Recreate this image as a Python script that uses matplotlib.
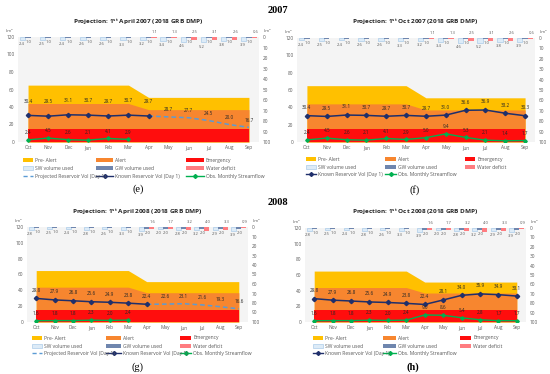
import matplotlib
matplotlib.use('Agg')
import matplotlib.pyplot as plt
from matplotlib.patches import Rectangle
from matplotlib.lines import Line2D
import numpy as np

plt.rcParams['font.family'] = ['Open Sans', 'DejaVu Sans']
plt.rcParams['mathtext.fontset'] = 'custom'
plt.rcParams['mathtext.rm'] = 'Open Sans'
plt.rcParams['mathtext.bf'] = 'Open Sans:bold'

W, H = 550, 374

months = ['Oct', 'Nov', 'Dec', 'Jan', 'Feb', 'Mar', 'Apr', 'May', 'Jun', 'Jul', 'Aug', 'Sep']
pre_alert = [65, 65, 65, 65, 65, 65, 51, 51, 51, 51, 51, 51]
alert = [44, 44, 44, 44, 44, 44, 37, 37, 37, 37, 37, 37]
emergency = [15, 15, 15, 15, 15, 15, 15, 15, 15, 15, 15, 15]

sw_2007 = [2.4, 2.5, 2.4, 2.6, 2.6, 3.3, 3.2, 3.4, 4.6, 5.2, 3.8, 3.9]
gw_2007 = [1.0, 1.0, 1.0, 1.0, 1.0, 1.0, 1.0, 1.0, 1.0, 1.0, 1.0, 1.0]
deficit_2007 = [0, 0, 0, 0, 0, 0, 1.1, 1.3, 2.5, 3.1, 2.6, 0.6]

sw_2008 = [2.8, 2.5, 2.4, 2.8, 2.6, 3.3, 3.9, 2.0, 2.8, 3.2, 2.9, 3.9]
gw_2008 = [1.0, 1.0, 1.0, 1.0, 1.0, 1.0, 2.0, 2.0, 2.0, 2.0, 2.0, 2.0]
deficit_2008 = [0, 0, 0, 0, 0, 0, 1.6, 1.7, 3.2, 4.0, 3.3, 0.9]

known_apr2007 = [30.4, 29.5, 31.1, 30.7, 29.7, 30.7, 29.7]
projected_apr2007 = [29.7, 28.7, 27.7, 24.5, 20.0, 16.7]
flow_apr2007 = [2.4, 4.5, 2.6, 2.1, 4.1, 2.9]

known_oct2007 = [30.4, 29.5, 31.1, 30.7, 29.7, 30.7, 29.7, 31.0, 36.6, 36.9, 33.2, 30.3]
flow_oct2007 = [2.4, 4.5, 2.6, 2.1, 4.1, 2.9, 5.0, 9.4, 5.3, 2.1, 1.4, 1.7]

known_apr2008 = [29.8, 27.9, 26.8, 25.6, 24.9, 23.8, 22.4]
projected_apr2008 = [22.4, 22.6, 23.1, 21.6, 19.3, 16.6]
flow_apr2008 = [1.6, 1.8, 1.8, 2.3, 2.0, 2.4]

known_oct2008 = [29.8, 27.9, 26.8, 25.6, 24.9, 23.8, 22.4, 28.1, 34.0, 35.9, 34.9, 33.1]
flow_oct2008 = [1.6, 1.8, 1.8, 2.3, 2.0, 2.4, 9.0, 8.6, 5.4, 2.8, 1.7, 1.7]

C_PRE = '#FFC000'
C_ALERT = '#F7862F'
C_EMER = '#FF0D0D'
C_SW = '#DDEBF7'
C_SW_EDGE = '#9DC3E6'
C_GW = '#6F86AE'
C_DEF = '#FF7C80'
C_KNOWN = '#1F2F6B'
C_PROJ = '#5B9BD5'
C_FLOW = '#00B050'
C_TXT = '#595959'

fig = plt.figure(figsize=(W / 100, H / 100), dpi=100)
fig.patch.set_facecolor('white')

ov = fig.add_axes([0, 0, 1, 1])
ov.set_xlim(0, W)
ov.set_ylim(H, 0)
ov.axis('off')
ov.set_zorder(10)


def px_axes(l, t, r, b):
    return fig.add_axes([l / W, 1 - b / H, (r - l) / W, (b - t) / H])


def panel(box, title, tcx, ty, sw, gw, deficit, known, projected, flow,
          known_off, legrows, legpx, legtx, caption, capxy, capbold=False):
    l, t, r, b = box
    ax = px_axes(l, t, r, b)
    ax.set_facecolor('#F4F4F4')
    x = np.arange(len(months))
    ax.fill_between(x, 0, pre_alert, color=C_PRE, lw=0, zorder=1)
    ax.fill_between(x, 0, alert, color=C_ALERT, lw=0, zorder=2)
    ax.fill_between(x, 0, emergency, color=C_EMER, lw=0, zorder=3)
    ax.set_xlim(-0.5, len(months) - 0.5)
    ax.set_ylim(0, 120)
    ax.set_yticks(range(0, 121, 20))
    ax.set_xticks(x)
    ax.set_xticklabels(months)
    ax.tick_params(axis='both', length=0, labelsize=3.4, labelcolor=C_TXT, pad=2.5)
    for s in ax.spines.values():
        s.set_visible(False)

    # lines
    kx = np.arange(len(known))
    ax.plot(kx, known, color=C_KNOWN, lw=1.1, marker='D', ms=2.2, zorder=6)
    for xi, v in zip(kx, known):
        ax.annotate(f'{v:.1f}', (xi, v), xytext=(0, known_off), textcoords='offset points',
                    ha='center', va='bottom', fontsize=3.3, color='#262626', zorder=8)
    if projected is not None:
        px = np.arange(len(known) - 1, len(known) - 1 + len(projected))
        ax.plot(px, projected, color=C_PROJ, lw=1.1, ls=(0, (3, 2)), zorder=5)
        for xi, v in zip(px[1:], projected[1:]):
            ax.annotate(f'{v:.1f}', (xi, v), xytext=(0, 3.5), textcoords='offset points',
                        ha='center', va='bottom', fontsize=3.3, color='#262626', zorder=8)
    fx = np.arange(len(flow))
    ax.plot(fx, flow, color=C_FLOW, lw=1.0, marker='D', ms=1.8, zorder=6)
    for xi, v in zip(fx, flow):
        ax.annotate(f'{v:.1f}', (xi, v), xytext=(0, 3.5), textcoords='offset points',
                    ha='center', va='bottom', fontsize=3.3, color='#262626', zorder=8)

    # secondary axis bars
    ax2 = ax.twinx()
    ax2.set_ylim(100, 0)
    ax2.set_yticks(range(0, 101, 10))
    ax2.tick_params(axis='y', length=0, labelsize=3.4, labelcolor=C_TXT, pad=2.5)
    for s in ax2.spines.values():
        s.set_visible(False)
    wb = 0.27
    ax2.bar(x - wb, sw, wb, color=C_SW, edgecolor=C_SW_EDGE, lw=0.4)
    ax2.bar(x, gw, wb, color=C_GW, lw=0)
    ax2.bar(x + wb, deficit, wb, color=C_DEF, lw=0)
    for xi, s_, g_, d_ in zip(x, sw, gw, deficit):
        ax2.annotate(f'{s_:.1f}', (xi - 0.33, s_), xytext=(0, -1.5), textcoords='offset points',
                     ha='center', va='top', fontsize=3.0, color=C_TXT)
        ax2.annotate(f'{g_:.1f}', (xi - 0.1, g_), xytext=(0, -1.5), textcoords='offset points',
                     ha='left', va='top', fontsize=3.0, color=C_TXT)
        if d_ > 0:
            ax2.annotate(f'{d_:.1f}', (xi + 0.32, 0), xytext=(0, 2.5), textcoords='offset points',
                         ha='center', va='bottom', fontsize=3.0, color=C_TXT,
                         annotation_clip=False)

    # km3 labels and title
    ov.text(l - 9, t - 6, 'km³', fontsize=3.0, color=C_TXT, ha='center', va='center')
    ov.text(r + 8, t - 6, 'km³', fontsize=3.0, color=C_TXT, ha='center', va='center')
    ov.text(tcx, ty, title, fontsize=4.6, fontweight='bold', color='#262626',
            ha='center', va='center')

    # legend
    items = [
        ('patch', C_PRE, None, 'Pre- Alert'), ('patch', C_ALERT, None, 'Alert'),
        ('patch', C_EMER, None, 'Emergency'),
        ('patch', C_SW, C_SW_EDGE, 'SW volume used'), ('patch', C_GW, None, 'GW volume used'),
        ('patch', C_DEF, None, 'Water deficit'),
    ]
    if projected is not None:
        items += [('dash', C_PROJ, None, 'Projected Reservoir Vol (Day 1)'),
                  ('line', C_KNOWN, None, 'Known Reservoir Vol (Day 1)'),
                  ('line', C_FLOW, None, 'Obs. Monthly Streamflow')]
    else:
        items += [('line', C_KNOWN, None, 'Known Reservoir Vol (Day 1)'),
                  ('line', C_FLOW, None, 'Obs. Monthly Streamflow')]
    for k, (kind, col, ec, lab) in enumerate(items):
        rr, cc = divmod(k, 3)
        yy = legrows[rr]
        x0, x1 = legpx[cc], legtx[cc] - 2
        if kind == 'patch':
            ov.add_patch(Rectangle((x0, yy - 2.2), x1 - x0, 4.4, facecolor=col,
                                   edgecolor=ec if ec else 'none', lw=0.4))
        elif kind == 'dash':
            ov.add_line(Line2D([x0, x1], [yy, yy], color=col, lw=1.0, ls=(0, (3, 2))))
        else:
            ov.add_line(Line2D([x0, x1], [yy, yy], color=col, lw=1.0))
            ov.add_line(Line2D([(x0 + x1) / 2], [yy], color=col, marker='D', ms=2.0, lw=0))
        ov.text(legtx[cc], yy, lab, fontsize=3.6, color=C_TXT, ha='left', va='center')

    ov.text(capxy[0], capxy[1], caption, fontsize=7.5, ha='center', va='center',
            family='Liberation Serif', fontweight='bold' if capbold else 'normal')


ov.text(278, 10, '2007', fontsize=7.5, fontweight='bold', family='Liberation Serif',
        ha='center', va='center')
ov.text(278, 202, '2008', fontsize=7.5, fontweight='bold', family='Liberation Serif',
        ha='center', va='center')

panel((18, 37, 259, 142), r'Projection: 1$^{\mathbf{st}}$ April 2007 (2018 GRB DMP)', 138, 22,
      sw_2007, gw_2007, deficit_2007, known_apr2007, projected_apr2007, flow_apr2007,
      8.5, [160, 168, 176], [23, 96, 186], [35, 115, 206], '(e)', (138, 189))
panel((297, 38, 535, 142), r'Projection: 1$^{\mathbf{st}}$ Oct 2007 (2018 GRB DMP)', 415, 22,
      sw_2007, gw_2007, deficit_2007, known_oct2007, None, flow_oct2007,
      4.0, [159, 167, 174], [306, 385, 465], [318, 398, 477], '(f)', (415, 190))
panel((27, 227, 248, 322), r'Projection: 1$^{\mathbf{st}}$ April 2008 (2018 GRB DMP)', 137, 212,
      sw_2008, gw_2008, deficit_2008, known_apr2008, projected_apr2008, flow_apr2008,
      4.0, [338, 346, 353], [32, 106, 180], [44, 123, 193], '(g)', (137, 367))
panel((305, 228, 526, 322), r'Projection: 1$^{\mathbf{st}}$ Oct 2008 (2018 GRB DMP)', 415, 212,
      sw_2008, gw_2008, deficit_2008, known_oct2008, None, flow_oct2008,
      4.0, [338, 346, 353], [313, 383, 460], [325, 398, 473], '(h)', (413, 367), True)

fig.savefig('out.png', dpi=100)
